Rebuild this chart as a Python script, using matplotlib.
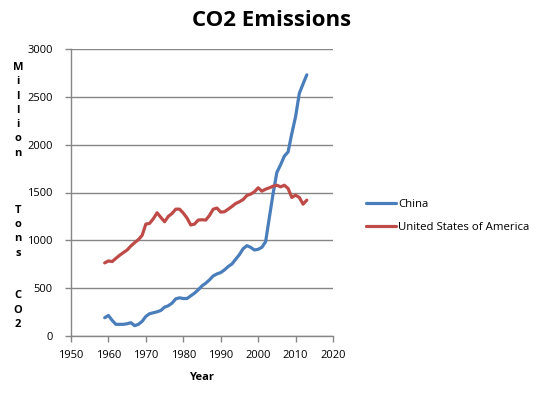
import matplotlib
matplotlib.use("Agg")
import matplotlib.pyplot as plt

years = list(range(1959, 2014))
china = [191, 215, 163, 122, 122, 122, 128, 139, 108, 122,
         153, 205, 233, 243, 253, 267, 302, 316, 344, 389,
         399, 392, 392, 420, 448, 483, 524, 552, 587, 628,
         649, 663, 691, 726, 753, 802, 851, 913, 944, 927,
         899, 906, 927, 986, 1240, 1490, 1710, 1790, 1880, 1924,
         2117, 2292, 2537, 2635, 2730]
usa = [764, 785, 778, 812, 844, 872, 899, 941, 976, 1007,
       1052, 1170, 1177, 1226, 1288, 1240, 1194, 1250, 1281, 1326,
       1326, 1285, 1233, 1160, 1170, 1212, 1215, 1212, 1260, 1326,
       1337, 1295, 1299, 1326, 1354, 1385, 1403, 1427, 1469, 1483,
       1507, 1549, 1514, 1535, 1549, 1566, 1576, 1559, 1576, 1542,
       1448, 1472, 1448, 1378, 1420]
series_names = ["China", "United States of America"]
xticks = list(range(1950, 2021, 10))
yticks = list(range(0, 3001, 500))

plt.rcParams['font.family'] = ['Open Sans', 'DejaVu Sans']

fig = plt.figure(figsize=(5.39, 3.93), dpi=100)
ax = fig.add_axes([71/539, 1-336/393, (333-71)/539, (336-49)/393])

ax.plot(years, china, color='#4A7EBB', lw=2.3, label=series_names[0], solid_capstyle='round')
ax.plot(years, usa, color='#BE4B48', lw=2.3, label=series_names[1], solid_capstyle='round')

ax.set_xlim(1950, 2020)
ax.set_ylim(0, 3000)
ax.set_xticks(xticks)
ax.set_yticks(yticks)
ax.yaxis.grid(True, color='#868686', lw=1)
ax.set_axisbelow(True)
for s in ['top', 'right']:
    ax.spines[s].set_visible(False)
for s in ['left', 'bottom']:
    ax.spines[s].set_color('#868686')
    ax.spines[s].set_linewidth(1)
ax.tick_params(axis='both', colors='#868686', labelcolor='black', labelsize=8, length=4, width=1)
ax.tick_params(axis='y', pad=9)
ax.tick_params(axis='x', pad=6)

ax.set_xlabel('Year', fontsize=8, fontweight='bold', labelpad=8)
fig.text(272/539, 1 - 20/393, 'CO2 Emissions', fontsize=16, fontweight='bold',
         ha='center', va='center')
ylab = "M\ni\nl\nl\ni\no\nn\n\n\n\nT\no\nn\ns\n\n\nC\nO\n2"
fig.text(18/539, 1 - 196/393, ylab, fontsize=8, fontweight='bold', ha='center', va='center',
         linespacing=1.41)

ax.legend(loc='center left', bbox_to_anchor=(1.126, 0.418), frameon=False, fontsize=8.2,
          handlelength=2.6, handletextpad=0.25, labelspacing=1.0, borderaxespad=0, borderpad=0)

fig.savefig('out.png', dpi=100)
